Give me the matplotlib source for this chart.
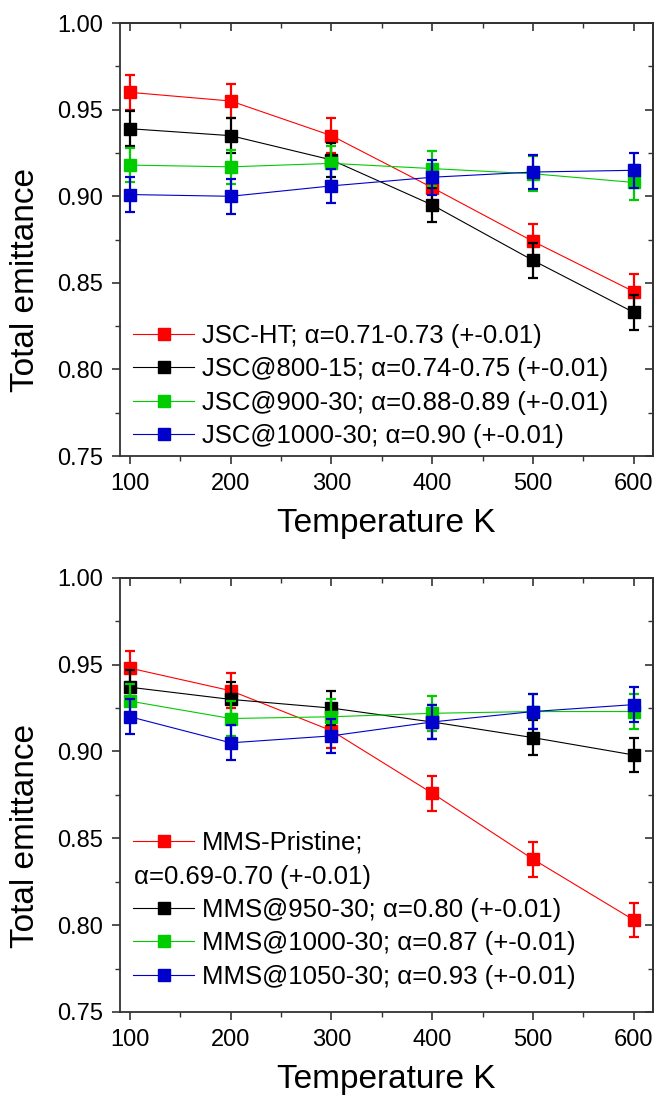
import matplotlib
matplotlib.use("Agg")
import matplotlib.pyplot as plt
from matplotlib.ticker import MultipleLocator, FormatStrFormatter

plt.rcParams['font.family'] = ['Liberation Sans', 'DejaVu Sans']

# temperatures (K)
temps = [100, 200, 300, 400, 500, 600]

# top panel: JSC samples
jsc_labels = ["JSC-HT; α=0.71-0.73 (+-0.01)",
              "JSC@800-15; α=0.74-0.75 (+-0.01)",
              "JSC@900-30; α=0.88-0.89 (+-0.01)",
              "JSC@1000-30; α=0.90 (+-0.01)"]
jsc_ht = [0.960, 0.955, 0.935, 0.905, 0.874, 0.845]
jsc_800 = [0.939, 0.935, 0.921, 0.895, 0.863, 0.833]
jsc_900 = [0.918, 0.917, 0.919, 0.916, 0.913, 0.908]
jsc_1000 = [0.901, 0.900, 0.906, 0.911, 0.914, 0.915]

# bottom panel: MMS samples
mms_labels = ["MMS-Pristine;",
              "MMS@950-30; α=0.80 (+-0.01)",
              "MMS@1000-30; α=0.87 (+-0.01)",
              "MMS@1050-30; α=0.93 (+-0.01)"]
mms_extra_line = "α=0.69-0.70 (+-0.01)"
mms_pristine = [0.948, 0.935, 0.912, 0.876, 0.838, 0.803]
mms_950 = [0.937, 0.930, 0.925, 0.917, 0.908, 0.898]
mms_1000 = [0.929, 0.919, 0.920, 0.922, 0.923, 0.923]
mms_1050 = [0.920, 0.905, 0.909, 0.917, 0.923, 0.927]

err = 0.01
colors = ['#ff0000', '#000000', '#00cc00', '#0000cc']
spine_col = '#333333'


def style_axes(ax):
    ax.set_xlim(90, 619)
    ax.set_ylim(0.75, 1.00)
    ax.xaxis.set_major_locator(MultipleLocator(100))
    ax.xaxis.set_minor_locator(MultipleLocator(50))
    ax.yaxis.set_major_locator(MultipleLocator(0.05))
    ax.yaxis.set_minor_locator(MultipleLocator(0.025))
    ax.yaxis.set_major_formatter(FormatStrFormatter('%.2f'))
    for sp in ax.spines.values():
        sp.set_color(spine_col)
        sp.set_linewidth(1.3)
    ax.tick_params(which='major', direction='out', length=6, width=1.2,
                   color=spine_col, labelsize=17, pad=6)
    ax.tick_params(which='minor', direction='out', length=3.5, width=1.0,
                   color=spine_col)
    # mirrored ticks on top/right pointing inward
    top = ax.secondary_xaxis('top')
    top.xaxis.set_major_locator(MultipleLocator(100))
    top.xaxis.set_minor_locator(MultipleLocator(50))
    top.tick_params(which='both', direction='in', labeltop=False, color=spine_col)
    top.tick_params(which='major', length=6, width=1.2)
    top.tick_params(which='minor', length=3.5, width=1.0)
    right = ax.secondary_yaxis('right')
    right.yaxis.set_major_locator(MultipleLocator(0.05))
    right.yaxis.set_minor_locator(MultipleLocator(0.025))
    right.tick_params(which='both', direction='in', labelright=False, color=spine_col)
    right.tick_params(which='major', length=6, width=1.2)
    right.tick_params(which='minor', length=3.5, width=1.0)
    for s in (top, right):
        for sp in s.spines.values():
            sp.set_color(spine_col)
            sp.set_linewidth(1.3)
    ax.set_xlabel('Temperature K', fontsize=24, va='center')
    ax.set_ylabel('Total emittance', fontsize=24, va='center')
    ax.xaxis.set_label_coords(0.5, -0.155)
    ax.yaxis.set_label_coords(-0.178, 0.406)


def draw_series(ax, series, labels):
    handles = []
    for vals, lab, c in zip(series, labels, colors):
        ax.errorbar(temps, vals, yerr=err, fmt='none', ecolor=c,
                    elinewidth=1.6, capsize=3.5, capthick=1.6, zorder=3)
        h, = ax.plot(temps, vals, color=c, lw=0.8, marker='s', ms=9,
                     mec=c, mfc=c, label=lab, zorder=3)
        handles.append(h)
    return handles


fig = plt.figure(figsize=(6.57, 10.99), dpi=100)
ax1 = fig.add_axes([0.1826, 0.585, 0.811, 0.394])
ax2 = fig.add_axes([0.1826, 0.0792, 0.811, 0.395])

leg_kw = dict(loc='lower left', frameon=False, fontsize=18.5, handlelength=2.4,
              handletextpad=0.3, labelspacing=0.37, borderpad=0, borderaxespad=0)

# top panel
h1 = draw_series(ax1, [jsc_ht, jsc_800, jsc_900, jsc_1000], jsc_labels)
style_axes(ax1)
ax1.legend(handles=h1, bbox_to_anchor=(0.024, 0.018), **leg_kw)

# bottom panel
h2 = draw_series(ax2, [mms_pristine, mms_950, mms_1000, mms_1050], mms_labels)
style_axes(ax2)
blank, = ax2.plot([], [], color='none', label=' ')
handles2 = [h2[0], blank, h2[1], h2[2], h2[3]]
ax2.legend(handles=handles2, bbox_to_anchor=(0.024, 0.053), **leg_kw)
ax2.text(0.026, 0.311, mms_extra_line, transform=ax2.transAxes,
         fontsize=18.5, va='center', ha='left')

fig.savefig('out.png', dpi=100)
